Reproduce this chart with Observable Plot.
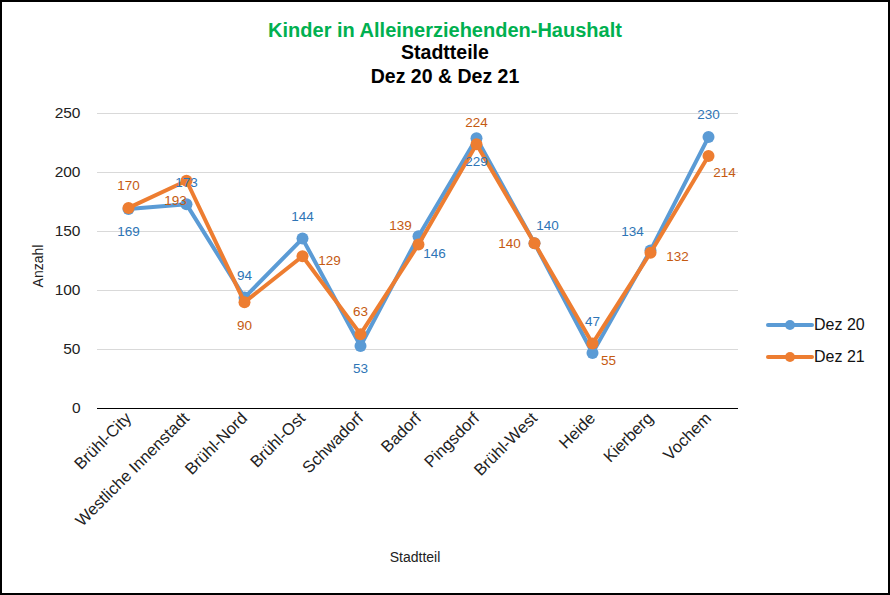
<!DOCTYPE html>
<html>
<head>
<meta charset="utf-8">
<script src="https://cdn.jsdelivr.net/npm/d3@7"></script>
<script src="https://cdn.jsdelivr.net/npm/@observablehq/plot@0.6"></script>
<style>
  html, body { margin: 0; padding: 0; background: #fff; }
  #wrap { position: relative; width: 890px; height: 595px; overflow: hidden; font-family: "Liberation Sans", Arial, sans-serif; }
  #wrap svg { position: absolute; left: 0; top: 0; }
  .abs { position: absolute; white-space: nowrap; line-height: 1.15; }
  #frame { position: absolute; left: 0; top: 0; width: 890px; height: 595px; box-sizing: border-box; border: 2px solid #000; pointer-events: none; }
</style>
</head>
<body>
<div id="wrap"></div>
<script>
const categories = ["Brühl-City", "Westliche Innenstadt", "Brühl-Nord", "Brühl-Ost", "Schwadorf", "Badorf", "Pingsdorf", "Brühl-West", "Heide", "Kierberg", "Vochem"];
const dez20 = [169, 173, 94, 144, 53, 146, 229, 140, 47, 134, 230];
const dez21 = [170, 193, 90, 129, 63, 139, 224, 140, 55, 132, 214];
const yTicks = [0, 50, 100, 150, 200, 250];
const seriesNames = ["Dez 20", "Dez 21"];
// label placement (compass codes) per point
const place20 = ["S", "N", "N", "N", "S", "SE", "S", "NE", "NN", "NW", "N"];
const place21 = ["N", "SW", "S", "E", "N", "NW", "N", "W", "SE", "E", "SE"];

const offsets = {N: [0, -22], NN: [0, -31], S: [0, 23], E: [27, 4], W: [-25, 0], NE: [13, -18], NW: [-18, -19], SE: [16, 17], SW: [-11, 20]};
const colors = {"Dez 20": "#5b9bd5", "Dez 21": "#ed7d31"};
const labelColors = {"Dez 20": "#2e75b6", "Dez 21": "#c55a11"};

const rows = [];
categories.forEach((c, i) => {
  rows.push({cat: c, series: "Dez 20", value: dez20[i], place: place20[i]});
});
categories.forEach((c, i) => {
  rows.push({cat: c, series: "Dez 21", value: dez21[i], place: place21[i]});
});

const marks = [
  Plot.gridY(yTicks.filter(d => d > 0), {stroke: "#d9d9d9", strokeOpacity: 1, strokeWidth: 1}),
  Plot.ruleY([0], {stroke: "#000", strokeWidth: 1}),
  Plot.axisX({tickRotate: -45, tickSize: 0, tickPadding: 7, fontSize: 16.5, label: null, color: "#222"}),
  Plot.axisY({ticks: yTicks, tickSize: 0, tickPadding: 17, fontSize: 15.5, label: null, color: "#222"})
];
for (const s of seriesNames) {
  const d = rows.filter(r => r.series === s);
  marks.push(Plot.line(d, {x: "cat", y: "value", stroke: colors[s], strokeWidth: 4, strokeLinejoin: "round"}));
  marks.push(Plot.dot(d, {x: "cat", y: "value", r: 6, fill: colors[s], stroke: "none"}));
}
for (const s of seriesNames) {
  for (const code of Object.keys(offsets)) {
    const d = rows.filter(r => r.series === s && r.place === code);
    if (!d.length) continue;
    marks.push(Plot.text(d, {x: "cat", y: "value", text: r => String(r.value), dx: offsets[code][0], dy: offsets[code][1], fill: labelColors[s], fontSize: 13.5}));
  }
}

const chart = Plot.plot({
  width: 890,
  height: 595,
  marginTop: 113,
  marginBottom: 187,
  marginLeft: 97,
  marginRight: 152,
  style: {fontFamily: "Liberation Sans, Arial, sans-serif", background: "#fff"},
  x: {type: "point", domain: categories, padding: 0.5},
  y: {domain: [0, 250]},
  marks
});

const wrap = document.getElementById("wrap");
wrap.appendChild(chart);

function addText(txt, css) {
  const el = document.createElement("div");
  el.className = "abs";
  el.textContent = txt;
  Object.assign(el.style, css);
  wrap.appendChild(el);
  return el;
}
addText("Kinder in Alleinerziehenden-Haushalt", {left: "0", width: "890px", textAlign: "center", top: "19px", fontSize: "20px", fontWeight: "bold", color: "#00b050"});
addText("Stadtteile", {left: "0", width: "890px", textAlign: "center", top: "41px", fontSize: "19.5px", fontWeight: "bold", color: "#000"});
addText("Dez 20 & Dez 21", {left: "0", width: "890px", textAlign: "center", top: "65px", fontSize: "19.5px", fontWeight: "bold", color: "#000"});
addText("Stadtteil", {left: "365px", width: "100px", textAlign: "center", top: "549px", fontSize: "14px", color: "#222"});
addText("Anzahl", {left: "8px", width: "60px", textAlign: "center", top: "258px", fontSize: "14px", color: "#222", transform: "rotate(-90deg)"});

// legend
seriesNames.forEach((s, i) => {
  const y = 325 + i * 32;
  const sw = document.createElementNS("http://www.w3.org/2000/svg", "svg");
  sw.setAttribute("width", "50");
  sw.setAttribute("height", "14");
  sw.style.position = "absolute";
  sw.style.left = "766px";
  sw.style.top = (y - 7) + "px";
  sw.innerHTML = `<line x1="2" y1="7" x2="46" y2="7" stroke="${colors[s]}" stroke-width="4" stroke-linecap="round"/><circle cx="24" cy="7" r="5" fill="${colors[s]}"/>`;
  wrap.appendChild(sw);
  addText(s, {left: "814px", top: (y - 9) + "px", fontSize: "16px", color: "#111"});
});

const frame = document.createElement("div");
frame.id = "frame";
wrap.appendChild(frame);
</script>
</body>
</html>
